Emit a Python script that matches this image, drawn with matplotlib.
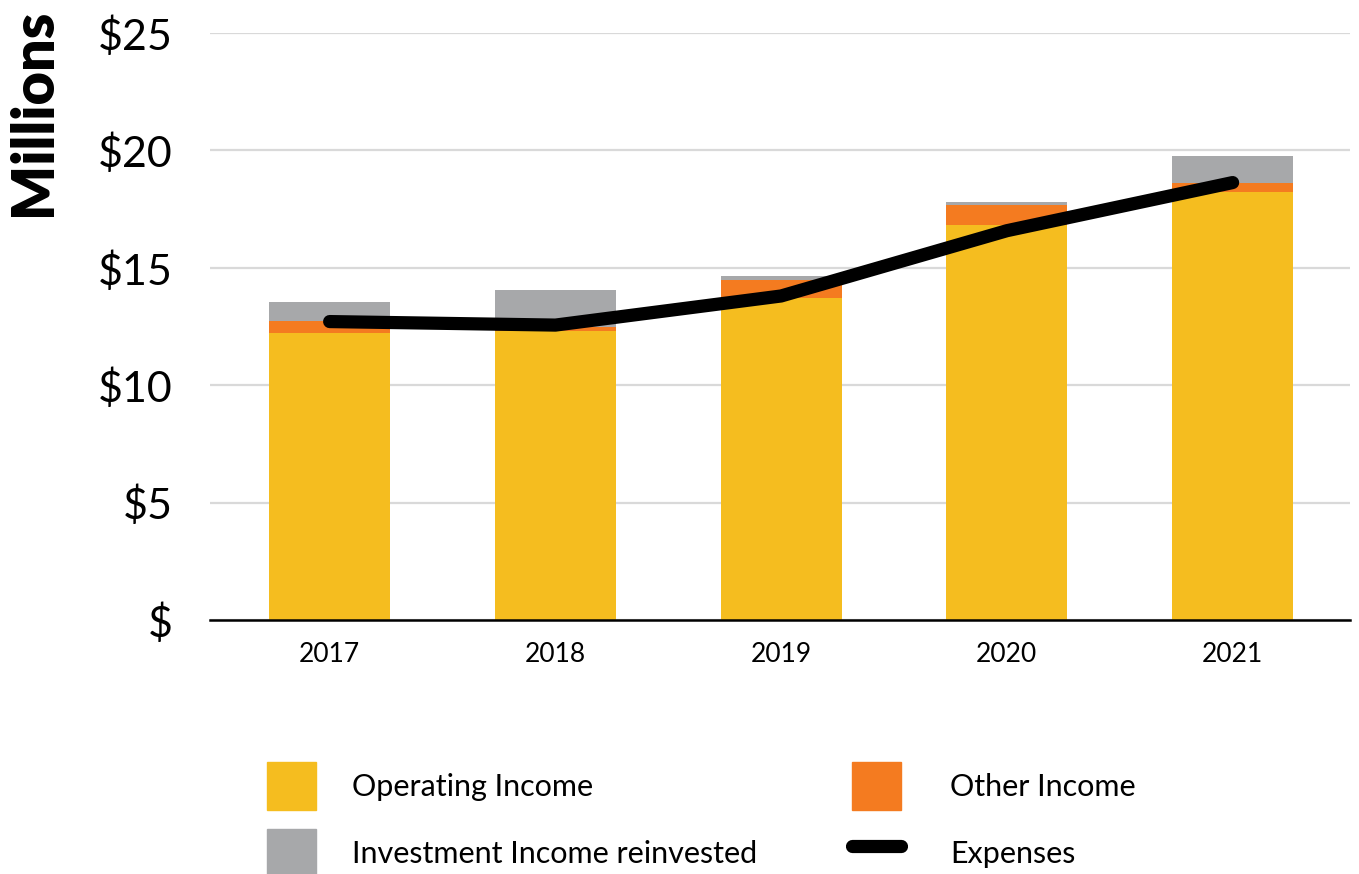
import matplotlib
matplotlib.use("Agg")
import matplotlib.pyplot as plt
from matplotlib.patches import Patch
from matplotlib.lines import Line2D
import numpy as np

years = ["2017", "2018", "2019", "2020", "2021"]
operating = [12.24, 12.31, 13.71, 16.82, 18.22]
other = [0.51, 0.17, 0.77, 0.85, 0.40]
investment = [0.78, 1.57, 0.17, 0.12, 1.15]
expenses = [12.71, 12.56, 13.80, 16.58, 18.63]
yticks = [0, 5, 10, 15, 20, 25]
ytick_labels = ["$", "$5", "$10", "$15", "$20", "$25"]

YELLOW = "#F5BD1F"
ORANGE = "#F47B20"
GRAY = "#A7A8AA"

plt.rcParams['font.family'] = ['Lato', 'DejaVu Sans']

fig = plt.figure(figsize=(13.59, 8.74), dpi=100)
ax = fig.add_axes([210 / 1359, 1 - 620 / 874, 1140 / 1359, 587 / 874])

x = np.arange(len(years))
w = 0.535
op = np.array(operating)
ot = np.array(other)
ax.bar(x, op, w, color=YELLOW, zorder=2)
ax.bar(x, ot, w, bottom=op, color=ORANGE, zorder=2)
ax.bar(x, investment, w, bottom=op + ot, color=GRAY, zorder=2)
ax.plot(x, expenses, color="black", lw=9.5, solid_capstyle="round",
        solid_joinstyle="round", zorder=3)

ax.set_xlim(-0.53, 4.52)
ax.set_ylim(0, 25)
ax.set_yticks(yticks)
ax.set_yticklabels(ytick_labels, fontsize=31)
ax.set_xticks(x)
ax.set_xticklabels(years, fontsize=19)
ax.tick_params(axis="y", length=0, pad=27)
ax.tick_params(axis="x", length=0, pad=16)
ax.grid(axis="y", color="#D9D9D9", lw=1.6, zorder=0)
ax.set_axisbelow(True)
for s in ["top", "right", "left"]:
    ax.spines[s].set_visible(False)
ax.spines["bottom"].set_linewidth(1.8)
ax.spines["bottom"].set_zorder(4)

fig.text(34 / 1359, 1 - 112 / 874, "Millions", rotation=90, fontsize=41.5,
         fontweight="heavy", ha="center", va="center")

fs = 22
leg_kw = dict(loc="upper left", frameon=False, fontsize=fs, borderpad=0,
              borderaxespad=0, handlelength=1.6, handleheight=2.04,
              labelspacing=0.62)
h1 = [Patch(color=YELLOW), Patch(color=GRAY)]
l1 = ["Operating Income", "Investment Income reinvested"]
h2 = [Patch(color=ORANGE),
      Line2D([], [], color="black", lw=9.5, solid_capstyle="round")]
l2 = ["Other Income", "Expenses"]
fig.legend(h1, l1, bbox_to_anchor=(267 / 1359, 1 - 762 / 874),
           handletextpad=1.18, **leg_kw)
fig.legend(h2, l2, bbox_to_anchor=(852 / 1359, 1 - 762 / 874),
           handletextpad=1.6, **leg_kw)

fig.savefig("out.png", dpi=100)
